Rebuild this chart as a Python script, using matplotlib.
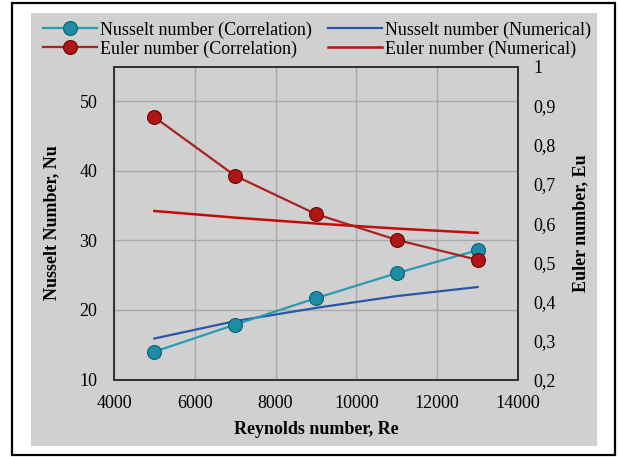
import matplotlib.pyplot as plt
from matplotlib.ticker import FuncFormatter, MultipleLocator
from matplotlib.patches import Rectangle

# data
re_vals = [5000, 7000, 9000, 11000, 13000]
nu_corr = [14.0, 17.9, 21.7, 25.3, 28.6]
nu_num = [15.9, 18.4, 20.3, 22.0, 23.3]
eu_corr = [0.871, 0.721, 0.623, 0.557, 0.506]
eu_num = [0.631, 0.614, 0.599, 0.586, 0.575]

plt.rcParams['font.family'] = ['Liberation Serif', 'DejaVu Serif']
plt.rcParams['font.size'] = 13

fig = plt.figure(figsize=(6.2, 4.57), dpi=100)
fig.patch.set_facecolor('white')

# gray panel and black outer frame
fig.patches.append(Rectangle((31/620, 1-446/457), 566/620, 433/457,
                             transform=fig.transFigure, facecolor='#d0d0d0',
                             edgecolor='none', zorder=-2))
fig.patches.append(Rectangle((12/620, 1-455/457), 603/620, 452/457,
                             transform=fig.transFigure, facecolor='none',
                             edgecolor='black', linewidth=1.6, zorder=-1))

ax = fig.add_axes([114/620, 1-379.5/457, 404/620, 312.8/457])
ax.set_facecolor('#d0d0d0')
ax2 = ax.twinx()

l1, = ax.plot(re_vals, nu_corr, color='#2a9bb2', lw=1.6, marker='o', ms=10,
              mfc='#1b8ea6', mec='#0e5f72', mew=0.8, zorder=3)
l2, = ax.plot(re_vals, nu_num, color='#2a55a8', lw=1.6, zorder=2)
l3, = ax2.plot(re_vals, eu_corr, color='#a82222', lw=1.6, marker='o', ms=10,
               mfc='#b01414', mec='#6a0808', mew=0.8, zorder=3)
l4, = ax2.plot(re_vals, eu_num, color='#c40c0c', lw=1.8, zorder=2)

ax.set_xlim(4000, 14000)
ax.set_ylim(10, 55)
ax2.set_ylim(0.2, 1.0)
ax.xaxis.set_major_locator(MultipleLocator(2000))
ax.set_yticks([10, 20, 30, 40, 50])
ax2.yaxis.set_major_locator(MultipleLocator(0.1))
ax2.yaxis.set_major_formatter(FuncFormatter(
    lambda v, p: ('%g' % round(v, 1)).replace('.', ',')))

ax.grid(True, color='#a9a9a9', lw=1.0)
ax.set_axisbelow(True)
for a in (ax, ax2):
    for s in a.spines.values():
        s.set_color('#333333')
        s.set_linewidth(1.4)
    a.tick_params(length=0)
ax.tick_params(axis='y', pad=12)
ax2.tick_params(axis='y', pad=11)
ax.tick_params(axis='x', pad=11)

ax.set_xlabel('Reynolds number, Re', fontweight='bold', labelpad=7)
ax.set_ylabel('Nusselt Number, Nu', fontweight='bold', labelpad=14)
ax2.set_ylabel('Euler number, Eu', fontweight='bold', labelpad=12)

fig.legend([l1, l3, l2, l4],
           ['Nusselt number (Correlation)', 'Euler number (Correlation)',
            'Nusselt number (Numerical)', 'Euler number (Numerical)'],
           ncol=2, loc='upper left', bbox_to_anchor=(36/620, 1-14/457),
           frameon=False, handlelength=3.0, handletextpad=0.15,
           columnspacing=0.9, labelspacing=0.1, borderaxespad=0,
           fontsize=13)

fig.savefig('out.png', dpi=100)
